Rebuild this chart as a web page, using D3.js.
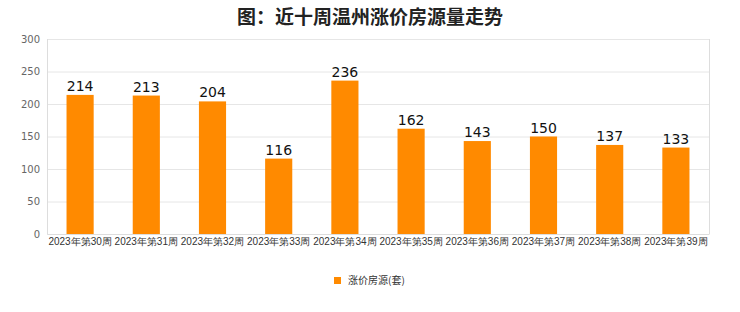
<!DOCTYPE html>
<html>
<head>
<meta charset="utf-8">
<script src="https://cdn.jsdelivr.net/npm/d3@7"></script>
<style>
  body { margin: 0; background: #fff; }
  svg { display: block; font-family: "Noto Sans CJK SC", "DejaVu Sans", sans-serif; }
</style>
</head>
<body>
<div id="chart"></div>
<script>
// 近十周温州涨价房源量
const weeks = ['2023年第30周', '2023年第31周', '2023年第32周', '2023年第33周', '2023年第34周',
               '2023年第35周', '2023年第36周', '2023年第37周', '2023年第38周', '2023年第39周'];
const values = [214, 213, 204, 116, 236, 162, 143, 150, 137, 133];
const yTicks = [0, 50, 100, 150, 200, 250, 300];

const width = 740;
const height = 312;
const margin = {top: 39, left: 47, bottom: 78, right: 31};

const x = d3.scaleBand()
  .domain(weeks)
  .range([margin.left, width - margin.right])
  .paddingInner(0.59)
  .paddingOuter(0.295);

const y = d3.scaleLinear()
  .domain([0, 300])
  .range([height - margin.bottom, margin.top]);

const svg = d3.select('#chart').append('svg')
  .attr('width', width)
  .attr('height', height);

svg.append('text')
  .attr('x', width / 2)
  .attr('y', 24)
  .attr('text-anchor', 'middle')
  .style('font-size', '19px')
  .style('font-weight', 'bold')
  .style('fill', '#222')
  .text('图：近十周温州涨价房源量走势');

// grid
svg.append('g')
  .attr('transform', `translate(${margin.left}, 0)`)
  .call(d3.axisLeft(y).tickValues(yTicks).tickSize(0).tickPadding(7))
  .call(g => g.select('.domain').remove())
  .call(g => g.selectAll('.tick line').clone()
    .attr('x2', width - margin.right - margin.left)
    .style('stroke', '#e6e6e6'))
  .call(g => g.selectAll('text').style('fill', '#666').style('font-size', '10px')
    .style('font-family', '"DejaVu Sans", sans-serif'));

// side borders
svg.append('line')
  .attr('x1', margin.left + 0.5).attr('x2', margin.left + 0.5)
  .attr('y1', y(300)).attr('y2', y(0))
  .style('stroke', '#ddd');
svg.append('line')
  .attr('x1', width - margin.right + 0.5).attr('x2', width - margin.right + 0.5)
  .attr('y1', y(300)).attr('y2', y(0))
  .style('stroke', '#ddd');

// x axis
svg.append('g')
  .attr('transform', `translate(0, ${height - margin.bottom})`)
  .call(d3.axisBottom(x).tickSize(0).tickPadding(4))
  .call(g => g.select('.domain').style('stroke', '#ddd'))
  .call(g => g.selectAll('text').style('fill', '#333').style('font-size', '10px'));

// bars
svg.append('g')
  .selectAll('rect').data(values).enter().append('rect')
  .attr('x', (d, i) => x(weeks[i]))
  .attr('y', d => y(d))
  .attr('width', x.bandwidth())
  .attr('height', d => y(0) - y(d))
  .attr('fill', '#ff8a00');

svg.append('g')
  .selectAll('text').data(values).enter().append('text')
  .attr('x', (d, i) => x(weeks[i]) + x.bandwidth() / 2)
  .attr('y', d => y(d) - 4)
  .attr('text-anchor', 'middle')
  .style('font-size', '14px')
  .style('font-family', '"DejaVu Sans", sans-serif')
  .style('fill', '#111')
  .text(d => d);

// legend
const legend = svg.append('g').attr('transform', 'translate(334, 276)');
legend.append('rect')
  .attr('width', 7).attr('height', 7)
  .attr('y', 1)
  .attr('fill', '#ff8a00');
legend.append('text')
  .attr('x', 14).attr('y', 8)
  .style('font-size', '10px')
  .style('fill', '#333')
  .text('涨价房源(套)');
</script>
</body>
</html>
